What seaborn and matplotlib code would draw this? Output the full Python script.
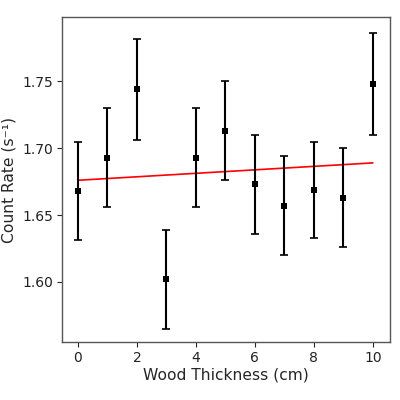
import numpy as np
import pandas as pd
import matplotlib
matplotlib.use("Agg")
import matplotlib.pyplot as plt
import seaborn as sns

# Measured data
thickness = [0, 1, 2, 3, 4, 5, 6, 7, 8, 9, 10]
count_rate = [1.668, 1.693, 1.744, 1.602, 1.693, 1.713, 1.673, 1.657, 1.669, 1.663, 1.748]
rate_err = [0.037, 0.037, 0.038, 0.037, 0.037, 0.037, 0.037, 0.037, 0.036, 0.037, 0.038]

# Fitted line endpoints
fit_x = [0, 10]
fit_y = [1.676, 1.689]

df = pd.DataFrame({"thickness": thickness, "rate": count_rate})
fit = pd.DataFrame({"thickness": fit_x, "rate": fit_y})

sns.set_style("white")
plt.rcParams["font.family"] = ["DejaVu Sans"]

fig = plt.figure(figsize=(4, 4), dpi=100)
ax = fig.add_axes([0.155, 0.145, 0.82, 0.812])

ax.errorbar(df["thickness"], df["rate"], yerr=rate_err, fmt="none",
            ecolor="black", elinewidth=1.5, capsize=3, capthick=1.2, zorder=2)
sns.scatterplot(data=df, x="thickness", y="rate", marker="s", color="black",
                s=14, linewidth=0, ax=ax, zorder=3)
sns.lineplot(data=fit, x="thickness", y="rate", color="red", linewidth=1.2,
             ax=ax, zorder=1)

ax.set_xlim(-0.54, 10.58)
ax.set_ylim(1.555, 1.798)
ax.set_xticks([0, 2, 4, 6, 8, 10])
ax.set_yticks([1.60, 1.65, 1.70, 1.75])
ax.tick_params(axis="both", labelsize=10, length=3.5, width=0.8,
               left=True, bottom=True, labelcolor="#222222", pad=3)
for s in ax.spines.values():
    s.set_color("#555555")
    s.set_linewidth(1.0)

ax.set_xlabel("Wood Thickness (cm)", fontsize=11.2, labelpad=2)
ax.set_ylabel("Count Rate (s⁻¹)", fontsize=11.2, labelpad=4)

fig.savefig("out.png", dpi=100)
